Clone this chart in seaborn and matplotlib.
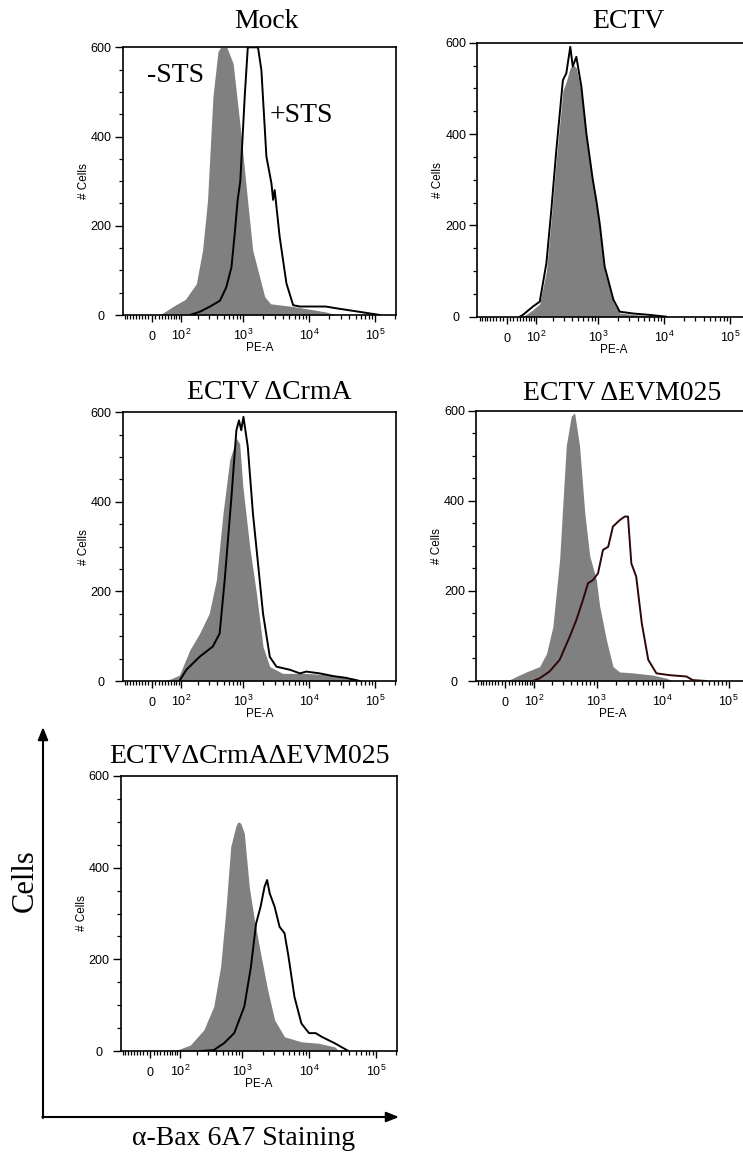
import numpy as np
import matplotlib
matplotlib.use("Agg")
import matplotlib.pyplot as plt
import seaborn as sns

# ---------------- data (PE-A value, # cells) ----------------
titles = ["Mock", "ECTV", "ECTV ΔCrmA", "ECTV ΔEVM025", "ECTVΔCrmAΔEVM025"]

mock_ctrl_x = [23, 66, 120, 186, 235, 282, 343, 410, 450, 560, 700, 900, 1160, 1390, 1880, 2110, 2600, 5690, 17600, 25700]
mock_ctrl_y = [0, 19, 35, 70, 145, 257, 490, 590, 600, 600, 564, 420, 257, 145, 70, 41, 25, 19, 7, 0]
mock_sts_x = [144, 210, 300, 440, 550, 660, 740, 820, 900, 1050, 1170, 1670, 1880, 2240, 2670, 2830, 2990, 3550, 4500, 5690, 7200, 17600, 25700, 58000, 117000]
mock_sts_y = [0, 7, 18, 32, 62, 107, 182, 257, 300, 489, 600, 600, 549, 355, 295, 258, 280, 176, 71, 22, 19, 19, 15, 7, 0]

ectv_ctrl_x = [50, 87, 119, 156, 189, 228, 290, 328, 378, 413, 469, 560, 668, 838, 945, 1065, 1265, 1720, 2140, 3420, 6020, 10900]
ectv_ctrl_y = [0, 15, 28, 100, 215, 345, 495, 515, 545, 552, 545, 490, 390, 290, 245, 195, 100, 30, 8, 5, 2, 0]
ectv_inf_x = [40, 50, 87, 119, 156, 189, 228, 290, 328, 378, 413, 469, 560, 668, 838, 945, 1065, 1265, 1720, 2140, 3420, 6020, 10900]
ectv_inf_y = [0, 4, 22, 33, 117, 234, 365, 518, 533, 591, 548, 569, 504, 401, 299, 255, 204, 110, 37, 11, 7, 4, 0]

crma_ctrl_x = [33, 60, 92, 144, 210, 300, 387, 490, 620, 785, 880, 985, 1250, 1580, 1990, 2520, 3950, 9000, 22900, 46000, 65000]
crma_ctrl_y = [0, 5, 13, 69, 106, 151, 225, 374, 493, 542, 530, 434, 300, 196, 77, 32, 17, 17, 13, 6, 0]
crma_inf_x = [92, 125, 210, 341, 435, 520, 660, 785, 860, 930, 1005, 1170, 1400, 1670, 1990, 2520, 3180, 5110, 7200, 9000, 14400, 22900, 36000, 58000]
crma_inf_y = [0, 25, 54, 77, 106, 225, 411, 560, 582, 560, 590, 523, 374, 263, 151, 54, 32, 25, 17, 21, 17, 11, 7, 0]

evm_ctrl_x = [5, 33, 66, 125, 165, 210, 270, 343, 410, 462, 550, 660, 785, 990, 1110, 1410, 1770, 2240, 3550, 7200, 11500, 14400]
evm_ctrl_y = [0, 10, 20, 32, 61, 120, 270, 522, 588, 595, 522, 374, 278, 225, 167, 91, 32, 20, 18, 13, 6, 0]
evm_inf_x = [92, 125, 185, 270, 387, 490, 620, 740, 880, 1050, 1250, 1500, 1770, 2240, 2670, 2990, 3360, 3980, 4840, 6060, 8050, 12700, 22900, 28600, 46000]
evm_inf_y = [0, 6, 21, 47, 98, 135, 180, 217, 224, 239, 291, 298, 343, 357, 365, 365, 261, 232, 128, 47, 17, 13, 10, 2, 0]

dko_ctrl_x = [70, 87, 155, 257, 367, 467, 556, 665, 790, 850, 940, 1065, 1265, 1510, 1870, 2390, 3030, 4270, 7650, 13700, 24100, 28000]
dko_ctrl_y = [0, 2, 13, 46, 97, 184, 300, 446, 489, 500, 497, 475, 358, 286, 213, 133, 68, 31, 20, 17, 9, 0]
dko_inf_x = [226, 367, 526, 750, 1065, 1340, 1600, 1870, 2140, 2340, 2560, 3030, 3600, 4270, 4900, 6020, 7650, 9950, 12500, 15400, 24100, 38700]
dko_inf_y = [0, 2, 17, 39, 97, 184, 278, 315, 358, 373, 344, 315, 271, 257, 206, 118, 60, 39, 39, 31, 17, 0]

x_major = [0, 1e2, 1e3, 1e4, 1e5]
x_tick_labels = ["0", r"$\mathregular{10^{2}}$", r"$\mathregular{10^{3}}$",
                 r"$\mathregular{10^{4}}$", r"$\mathregular{10^{5}}$"]
y_major = [0, 200, 400, 600]
y_tick_labels = ["0", "200", "400", "600"]

# ---------------- style ----------------
sns.set_theme(style="ticks")
plt.rcParams["font.family"] = ["Liberation Sans", "DejaVu Sans"]
plt.rcParams["text.color"] = "black"
plt.rcParams["mathtext.fontset"] = "custom"
plt.rcParams["mathtext.rm"] = "Liberation Sans"
plt.rcParams["mathtext.it"] = "Liberation Sans:italic"
plt.rcParams["mathtext.bf"] = "Liberation Sans:bold"
SERIF = ["Liberation Serif", "DejaVu Serif"]

W, H = 743, 1152
fig = plt.figure(figsize=(W / 100, H / 100), dpi=100)


def fwd(v):
    return np.arcsinh(np.asarray(v, float) / 83.0) / np.log(10)


def inv(u):
    return 83.0 * np.sinh(np.asarray(u, float) * np.log(10))


x_minor = ([-v for v in range(10, 100, 10)] + list(range(10, 100, 10)) +
           [m * 10 ** k for k in range(2, 5) for m in range(2, 10)] + [200000])

boxes = [(122.7, 47.3, 396.0, 315.0),
         (477.3, 42.7, 750.6, 316.7),
         (122.7, 412.3, 396.0, 681.0),
         (476.0, 410.7, 749.3, 681.0),
         (120.7, 776.0, 396.7, 1051.0)]
series = [(mock_ctrl_x, mock_ctrl_y, mock_sts_x, mock_sts_y, "black"),
          (ectv_ctrl_x, ectv_ctrl_y, ectv_inf_x, ectv_inf_y, "black"),
          (crma_ctrl_x, crma_ctrl_y, crma_inf_x, crma_inf_y, "black"),
          (evm_ctrl_x, evm_ctrl_y, evm_inf_x, evm_inf_y, "#2e0707"),
          (dko_ctrl_x, dko_ctrl_y, dko_inf_x, dko_inf_y, "black")]

for (l, t, r, b), (gx, gy, lx, ly, lc) in zip(boxes, series):
    ax = fig.add_axes([l / W, 1 - b / H, (r - l) / W, (b - t) / H])
    ax.set_xscale("function", functions=(fwd, inv))
    ax.fill_between(gx, gy, 0, color="#808080", lw=0, zorder=1)
    sns.lineplot(x=lx, y=ly, ax=ax, color=lc, linewidth=1.4, sort=False,
                 estimator=None, zorder=3)
    ax.set_xlim(-100, 2.05e5)
    ax.set_ylim(0, 600)
    ax.set_xticks(x_major)
    ax.set_xticklabels(x_tick_labels)
    ax.set_xticks(x_minor, minor=True)
    ax.set_yticks(y_major)
    ax.set_yticklabels(y_tick_labels)
    ax.set_yticks(np.arange(0, 601, 50), minor=True)
    ax.tick_params(which="major", width=1.0, labelsize=9,
                   direction="out", color="black", labelcolor="black")
    ax.tick_params(which="minor", length=3, width=0.9, direction="out", color="black")
    ax.tick_params(axis="x", which="major", length=4.8, pad=13.5)
    ax.tick_params(axis="y", which="major", length=5.5, pad=10)
    for lab in ax.get_xticklabels():
        lab.set_va("baseline")
    for lab in ax.get_yticklabels():
        lab.set_ha("center")
    for s in ax.spines.values():
        s.set_visible(True)
        s.set_linewidth(1.2)
        s.set_color("black")
    ax.set_xlabel("PE-A", fontsize=8.5, color="black")
    ax.xaxis.set_label_coords(0.5, -27 / (b - t))
    ax.set_ylabel("# Cells", fontsize=8.5, color="black")
    ax.yaxis.set_label_coords(-33 / (r - l), 0.5)
    ax.grid(False)

# ---------------- overlay: titles, annotations, big arrows ----------------
ov = fig.add_axes([0, 0, 1, 1])
ov.set_xlim(0, W)
ov.set_ylim(H, 0)
ov.axis("off")
ov.patch.set_alpha(0)

title_pos = [(266.5, 28), (628, 28), (269, 399), (622, 400), (249, 763)]
for (tx, ty), tt in zip(title_pos, titles):
    ov.text(tx, ty, tt, ha="center", va="baseline", fontsize=20, family=SERIF, color="black")

ov.text(147, 82, "-STS", ha="left", va="baseline", fontsize=20, family=SERIF)
ov.text(270, 122, "+STS", ha="left", va="baseline", fontsize=20, family=SERIF)

arrow_style = "-|>,head_length=0.75,head_width=0.3"
ov.annotate("", xy=(43, 727), xytext=(43, 1118),
            arrowprops=dict(arrowstyle=arrow_style, color="black", lw=1.5,
                            shrinkA=0, shrinkB=0, mutation_scale=10))
ov.annotate("", xy=(399, 1117), xytext=(42.3, 1117),
            arrowprops=dict(arrowstyle=arrow_style, color="black", lw=1.5,
                            shrinkA=0, shrinkB=0, mutation_scale=10))
ov.text(25, 881, "Cells", rotation=90, ha="center", va="center", fontsize=22, family=SERIF)
ov.text(244, 1145, "α-Bax 6A7 Staining", ha="center", va="baseline", fontsize=20, family=SERIF)

fig.savefig("out.png", dpi=100)
